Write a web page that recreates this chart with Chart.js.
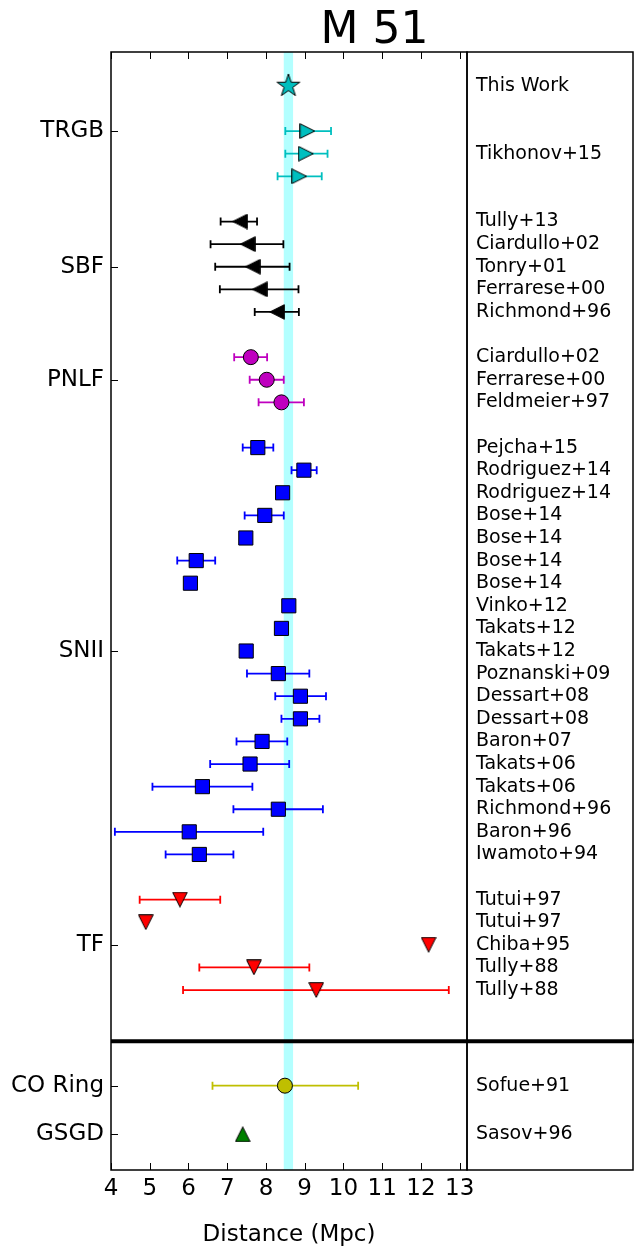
<!DOCTYPE html>
<html>
<head>
<meta charset="utf-8">
<title>M 51</title>
<script src="https://cdn.jsdelivr.net/npm/chart.js@4.4.1/dist/chart.umd.min.js"></script>
<style>
  html, body { margin: 0; padding: 0; background: #fff; }
  #chart { display: block; }
</style>
</head>
<body>
<canvas id="chart" width="634" height="1248"></canvas>
<script>
// ===== data: distances in Mpc =====
const xTicks = [4, 5, 6, 7, 8, 9, 10, 11, 12, 13];

// TRGB
const thisWorkDist = [8.58];
const thisWorkBand = [8.46, 8.70];
const tikhonovDist = [9.07, 9.03, 8.86];
const tikhonovLo = [8.50, 8.50, 8.30];
const tikhonovHi = [9.68, 9.59, 9.44];

// SBF
const sbfRefs = ['Tully+13', 'Ciardullo+02', 'Tonry+01', 'Ferrarese+00', 'Richmond+96'];
const sbfDist = [7.33, 7.53, 7.66, 7.84, 8.29];
const sbfLo = [6.83, 6.57, 6.69, 6.81, 7.71];
const sbfHi = [7.77, 8.45, 8.61, 8.84, 8.85];

// PNLF
const pnlfRefs = ['Ciardullo+02', 'Ferrarese+00', 'Feldmeier+97'];
const pnlfDist = [7.61, 8.02, 8.40];
const pnlfLo = [7.18, 7.58, 7.81];
const pnlfHi = [8.03, 8.46, 8.98];

// SNII
const sniiRefs = ['Pejcha+15', 'Rodriguez+14', 'Rodriguez+14', 'Bose+14', 'Bose+14', 'Bose+14', 'Bose+14',
  'Vinko+12', 'Takats+12', 'Takats+12', 'Poznanski+09', 'Dessart+08', 'Dessart+08', 'Baron+07',
  'Takats+06', 'Takats+06', 'Richmond+96', 'Baron+96', 'Iwamoto+94'];
const sniiDist = [7.79, 8.98, 8.43, 7.97, 7.48, 6.20, 6.05, 8.59, 8.40, 7.49, 8.32, 8.89, 8.89, 7.90,
  7.59, 6.36, 8.32, 6.02, 6.28];
const sniiLo = [7.40, 8.66, null, 7.45, null, 5.71, null, null, null, null, 7.51, 8.24, 8.40, 7.24,
  6.56, 5.07, 7.16, 4.10, 5.41];
const sniiHi = [8.19, 9.31, null, 8.46, null, 6.69, null, null, null, null, 9.12, 9.55, 9.38, 8.55,
  8.60, 7.65, 9.47, 7.93, 7.16];

// TF
const tfRefs = ['Tutui+97', 'Tutui+97', 'Chiba+95', 'Tully+88', 'Tully+88'];
const tfDist = [5.78, 4.90, 12.20, 7.69, 9.30];
const tfLo = [4.74, null, null, 6.28, 5.86];
const tfHi = [6.82, null, null, 9.12, 12.72];

// lower panel
const coRef = ['Sofue+91'];
const coDist = [8.49];
const coLo = [6.62];
const coHi = [10.38];
const gsgdRef = ['Sasov+96'];
const gsgdDist = [7.40];

// ===== row layout (one row per measurement, blank row between methods) =====
const Y_TOP = -1.5, Y_SEP = 42.26, Y_BOTTOM = 47.96;
const LOWER_ROWS = [44.23, 46.38];

let nextRow = 0;
function takeRows(n, gap) {
  const r = [];
  for (let i = 0; i < n; i++) r.push(nextRow++);
  nextRow += gap;
  return r;
}
const thisWorkRows = takeRows(1, 1);
const tikhonovRows = takeRows(3, 1);
const sbfRows = takeRows(5, 1);
const pnlfRows = takeRows(3, 1);
const sniiRows = takeRows(19, 1);
const tfRows = takeRows(5, 1);
const mid = rows => (rows[0] + rows[rows.length - 1]) / 2;

const methodTicks = [
  { row: (thisWorkRows[0] + tikhonovRows[2]) / 2, name: 'TRGB' },
  { row: mid(sbfRows), name: 'SBF' },
  { row: mid(pnlfRows), name: 'PNLF' },
  { row: mid(sniiRows), name: 'SNII' },
  { row: mid(tfRows), name: 'TF' },
  { row: LOWER_ROWS[0], name: 'CO Ring' },
  { row: LOWER_ROWS[1], name: 'GSGD' }
];

const refTicks = [{ row: thisWorkRows[0], name: 'This Work' }, { row: mid(tikhonovRows), name: 'Tikhonov+15' }];
[[sbfRefs, sbfRows], [pnlfRefs, pnlfRows], [sniiRefs, sniiRows], [tfRefs, tfRows]].forEach(([refs, rows]) => {
  refs.forEach((r, i) => refTicks.push({ row: rows[i], name: r }));
});
refTicks.push({ row: LOWER_ROWS[0], name: coRef[0] }, { row: LOWER_ROWS[1], name: gsgdRef[0] });

// ===== markers (matplotlib-like shapes) =====
function makeMarker(w, h, fill, path) {
  const c = document.createElement('canvas');
  c.width = w; c.height = h;
  const g = c.getContext('2d');
  g.fillStyle = fill; g.strokeStyle = '#000'; g.lineWidth = 1; g.lineJoin = 'miter';
  g.beginPath(); path(g, w, h); g.closePath();
  g.fill(); g.stroke();
  return c;
}
function triangleMarker(fill, s) {
  return makeMarker(s, s, fill, (g, w, h) => {
    g.moveTo(w / 2, 0.7); g.lineTo(w - 0.7, h - 0.7); g.lineTo(0.7, h - 0.7);
  });
}
function starMarker(fill, r) {
  const s = Math.ceil(2 * r + 2);
  return makeMarker(s, s, fill, (g, w, h) => {
    for (let i = 0; i < 10; i++) {
      const rr = i % 2 ? r * 0.381966 : r;
      const a = -Math.PI / 2 + i * Math.PI / 5;
      const px = w / 2 + rr * Math.cos(a), py = h / 2 + rr * Math.sin(a);
      if (i === 0) g.moveTo(px, py); else g.lineTo(px, py);
    }
  });
}

const C_CYAN = '#00bfbf', C_MAG = '#bf00bf', C_BLUE = '#0000ff', C_RED = '#ff0000',
  C_YEL = '#bfbf00', C_GREEN = '#008000', C_BLACK = '#000000';

function series(label, dist, rows, lo, hi, color, style) {
  return Object.assign({
    label,
    data: dist.map((d, i) => ({ x: d, y: rows[i] })),
    errLo: lo, errHi: hi, errColor: color,
    backgroundColor: color, borderColor: '#000', borderWidth: 1,
    pointHoverRadius: 0
  }, style);
}

const datasets = [
  series('This Work', thisWorkDist, thisWorkRows, null, null, C_CYAN, { pointStyle: starMarker(C_CYAN, 12) }),
  series('TRGB', tikhonovDist, tikhonovRows, tikhonovLo, tikhonovHi, C_CYAN, { pointStyle: triangleMarker(C_CYAN, 16), rotation: 90 }),
  series('SBF', sbfDist, sbfRows, sbfLo, sbfHi, C_BLACK, { pointStyle: triangleMarker(C_BLACK, 16), rotation: -90 }),
  series('PNLF', pnlfDist, pnlfRows, pnlfLo, pnlfHi, C_MAG, { pointStyle: 'circle', pointRadius: 7.5 }),
  series('SNII', sniiDist, sniiRows, sniiLo, sniiHi, C_BLUE, { pointStyle: 'rect', pointRadius: 10 }),
  series('TF', tfDist, tfRows, tfLo, tfHi, C_RED, { pointStyle: triangleMarker(C_RED, 16), rotation: 180 }),
  series('CO Ring', coDist, [LOWER_ROWS[0]], coLo, coHi, C_YEL, { pointStyle: 'circle', pointRadius: 7.5 }),
  series('GSGD', gsgdDist, [LOWER_ROWS[1]], null, null, C_GREEN, { pointStyle: triangleMarker(C_GREEN, 16) })
];

// ===== band, error bars, frame, inward ticks, title =====
const extras = {
  id: 'extras',
  beforeDatasetsDraw(chart) {
    const { ctx, chartArea: a, scales: { x, y } } = chart;
    ctx.save();
    const b0 = x.getPixelForValue(thisWorkBand[0]), b1 = x.getPixelForValue(thisWorkBand[1]);
    ctx.fillStyle = '#b3ffff';
    ctx.fillRect(b0, a.top, b1 - b0, a.bottom - a.top);

    chart.data.datasets.forEach(ds => {
      if (!ds.errLo) return;
      ctx.strokeStyle = ds.errColor;
      ctx.lineWidth = 1.8;
      ds.data.forEach((p, i) => {
        const lo = ds.errLo[i], hi = ds.errHi[i];
        if (lo == null || hi == null) return;
        const py = y.getPixelForValue(p.y);
        const x0 = x.getPixelForValue(lo), x1 = x.getPixelForValue(hi);
        ctx.beginPath();
        ctx.moveTo(x0, py); ctx.lineTo(x1, py);
        ctx.moveTo(x0, py - 4); ctx.lineTo(x0, py + 4);
        ctx.moveTo(x1, py - 4); ctx.lineTo(x1, py + 4);
        ctx.stroke();
      });
    });
    ctx.restore();
  },
  afterDraw(chart) {
    const { ctx, chartArea: a, scales: { x, y } } = chart;
    const right = chart.width - 1;
    ctx.save();
    ctx.strokeStyle = '#000';

    // inward tick marks
    ctx.lineWidth = 1;
    ctx.beginPath();
    xTicks.forEach(v => {
      const px = Math.round(x.getPixelForValue(v)) + 0.5;
      ctx.moveTo(px, a.top); ctx.lineTo(px, a.top + 7);
      ctx.moveTo(px, a.bottom); ctx.lineTo(px, a.bottom - 7);
    });
    methodTicks.forEach(t => {
      const py = Math.round(y.getPixelForValue(t.row)) + 0.5;
      ctx.moveTo(a.left, py); ctx.lineTo(a.left + 7, py);
    });
    ctx.stroke();

    // frames: main panel and reference panel
    ctx.lineWidth = 1.5;
    ctx.strokeRect(a.left, a.top, a.right - a.left, a.bottom - a.top);
    ctx.strokeRect(a.right, a.top, right - a.right, a.bottom - a.top);

    // separator between upper and lower panels
    const sy = y.getPixelForValue(Y_SEP);
    ctx.lineWidth = 4;
    ctx.beginPath();
    ctx.moveTo(a.left, sy); ctx.lineTo(chart.width, sy);
    ctx.stroke();

    // title
    ctx.fillStyle = '#000';
    ctx.font = '44px "DejaVu Sans"';
    ctx.textAlign = 'center';
    ctx.textBaseline = 'alphabetic';
    ctx.fillText('M 51', (a.left + chart.width) / 2 + 2, 43);
    ctx.restore();
  }
};

Chart.defaults.font.family = '"DejaVu Sans", sans-serif';
Chart.defaults.color = '#000';

const chart = new Chart(document.getElementById('chart').getContext('2d'), {
  type: 'scatter',
  data: { datasets },
  options: {
    responsive: false, animation: false, events: [],
    layout: { padding: { top: 52, left: 0, right: 0, bottom: 0 } },
    plugins: { legend: { display: false }, tooltip: { enabled: false } },
    scales: {
      x: {
        type: 'linear', min: 4, max: 13.19,
        afterBuildTicks: s => { s.ticks = xTicks.map(v => ({ value: v })); },
        ticks: { autoSkip: false, maxRotation: 0, padding: 5, font: { size: 23 }, color: '#000' },
        grid: { display: false, drawTicks: false }, border: { display: false },
        title: { display: true, text: 'Distance (Mpc)', color: '#000', font: { size: 23, lineHeight: 1 }, padding: { top: 0, bottom: 1 } },
        afterFit: s => { s.height = 78; }
      },
      y: {
        type: 'linear', reverse: true, min: Y_TOP, max: Y_BOTTOM,
        afterBuildTicks: s => { s.ticks = methodTicks.map(t => ({ value: t.row })); },
        ticks: { autoSkip: false, padding: 7, font: { size: 23 }, color: '#000', callback: (v, i) => methodTicks[i].name },
        grid: { display: false, drawTicks: false }, border: { display: false },
        afterFit: s => { s.width = 111; }
      },
      y2: {
        type: 'linear', position: 'right', display: true, reverse: true, min: Y_TOP, max: Y_BOTTOM,
        afterBuildTicks: s => { s.ticks = refTicks.map(t => ({ value: t.row })); },
        ticks: { autoSkip: false, padding: 9, font: { size: 19 }, color: '#000', callback: (v, i) => refTicks[i].name },
        grid: { display: false, drawTicks: false }, border: { display: false },
        afterFit: s => { s.width = 167; }
      }
    }
  },
  plugins: [extras]
});
</script>
</body>
</html>
